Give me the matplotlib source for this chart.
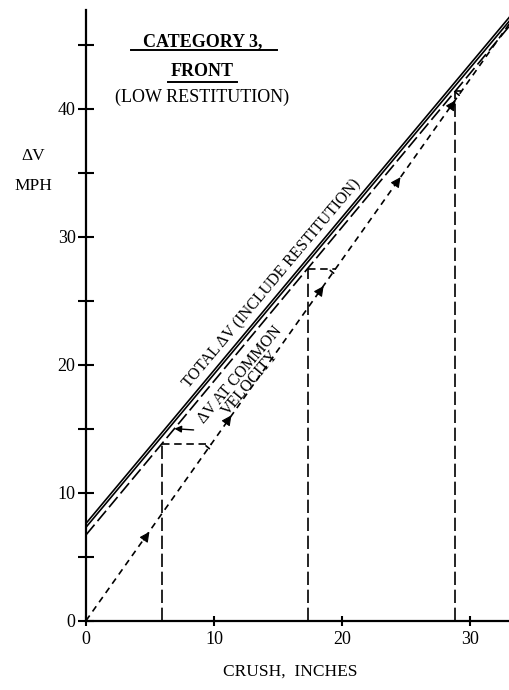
import matplotlib.pyplot as plt
from matplotlib.lines import Line2D

plt.rcParams['font.family'] = ['Liberation Serif', 'DejaVu Serif']

# values
crush_ends = [0, 33.1]
total_dv = [7.6, 47.2]          # TOTAL dV (include restitution), upper of the double line
total_dv_lower = [7.3, 46.9]    # lower of the double line
common_dv = [6.7, 46.5]         # dV at common velocity (long dash)
approach_dv = [0, 46.7]         # short-dashed line from the origin

crush_marks = [5.9, 17.3, 28.8]
common_at_marks = [13.8, 27.5, 41.4]
approach_at_level = [9.8, 19.5, 29.3]   # where the horizontal meets the short-dashed line

arrow_crush = [4.5, 10.9, 18.1, 24.1, 28.4]
arrow_dv = [6.3, 15.4, 25.5, 34.0, 40.0]

y_ticks = [0, 5, 10, 15, 20, 25, 30, 35, 40, 45]
y_labels = ['0', '', '10', '', '20', '', '30', '', '40', '']
x_ticks = [0, 10, 20, 30]
x_labels = ['0', '10', '20', '30']

W, H = 510, 690
fig = plt.figure(figsize=(W / 100, H / 100), dpi=100)
ax = fig.add_axes([86 / W, 1 - 620.7 / H, 424 / W, 610.7 / H])
ax.set_xlim(0, 33.1)
ax.set_ylim(0, 47.7)

lw = 1.2
ax.plot(crush_ends, total_dv, color='black', lw=lw)
ax.plot(crush_ends, total_dv_lower, color='black', lw=lw)
ax.plot(crush_ends, common_dv, color='black', lw=lw, dashes=(8, 2.8))
ax.plot(crush_ends, approach_dv, color='black', lw=lw, dashes=(3.8, 3))

for c, top, end in zip(crush_marks, common_at_marks, approach_at_level):
    ax.plot([c, c], [0, top], color='black', lw=lw, dashes=(8, 2.8))
    ax.plot([c, end], [top, top], color='black', lw=lw, dashes=(4.5, 2.8))
    # little open head where the horizontal meets the approach line
    ax.annotate('', xy=(end, top - 0.5), xytext=(end - 0.6, top),
                arrowprops=dict(arrowstyle='-', color='black', lw=lw))

for c, v in zip(arrow_crush, arrow_dv):
    ax.annotate('', xy=(c + 0.45, v + 0.64), xytext=(c, v),
                arrowprops=dict(arrowstyle='-|>', color='black', lw=0.8,
                                mutation_scale=15, shrinkA=0, shrinkB=0))

# leader arrow from the common-velocity label
ax.annotate('', xy=(6.9, 15.0), xytext=(8.4, 14.9),
            arrowprops=dict(arrowstyle='-|>', color='black', lw=1.0,
                            mutation_scale=10, shrinkA=0, shrinkB=0))

ax.text(14.5, 26.3, 'TOTAL ΔV (INCLUDE RESTITUTION)', rotation=50,
        rotation_mode='anchor', ha='center', va='center', fontsize=11.5)
ax.text(12.4, 18.9, 'ΔV AT COMMON\nVELOCITY', rotation=50,
        rotation_mode='anchor', ha='center', va='center', fontsize=11.5,
        linespacing=0.8)

for side in ['top', 'right']:
    ax.spines[side].set_visible(False)
for side in ['left', 'bottom']:
    ax.spines[side].set_linewidth(1.6)

ax.set_yticks(y_ticks)
ax.set_yticklabels(y_labels)
ax.set_xticks(x_ticks)
ax.set_xticklabels(x_labels)
ax.tick_params(axis='y', direction='inout', length=11, width=1.5,
               labelsize=13, pad=2)
ax.tick_params(axis='x', direction='inout', length=7, width=1.5,
               labelsize=13, pad=4)

# titles and axis captions
fig.text(203 / W, 1 - 42 / H, 'CATEGORY 3,', ha='center', va='center',
         fontsize=13, fontweight='bold')
fig.text(202 / W, 1 - 72 / H, 'FRONT', ha='center', va='center',
         fontsize=13, fontweight='bold')
fig.text(202 / W, 1 - 97 / H, '(LOW RESTITUTION)', ha='center', va='center',
         fontsize=13)
fig.add_artist(Line2D([131 / W, 277 / W], [1 - 50 / H, 1 - 50 / H],
                      color='black', lw=1.4))
fig.add_artist(Line2D([168 / W, 237 / W], [1 - 82 / H, 1 - 82 / H],
                      color='black', lw=1.4))

fig.text(33 / W, 1 - 156 / H, 'ΔV', ha='center', va='center', fontsize=12.5)
fig.text(33 / W, 1 - 186 / H, 'MPH', ha='center', va='center', fontsize=12.5)
fig.text(290 / W, 1 - 672 / H, 'CRUSH,  INCHES', ha='center', va='center',
         fontsize=12.5)

fig.savefig('out.png', dpi=100, facecolor='white')
